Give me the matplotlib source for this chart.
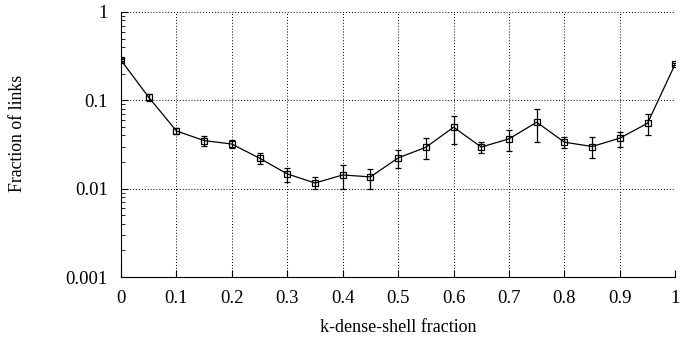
import numpy as np
import matplotlib.pyplot as plt

plt.rcParams['font.family'] = ['Liberation Serif', 'DejaVu Serif']

# data
shell_frac = [0.0, 0.05, 0.1, 0.15, 0.2, 0.25, 0.3, 0.35, 0.4, 0.45, 0.5,
              0.55, 0.6, 0.65, 0.7, 0.75, 0.8, 0.85, 0.9, 0.95, 1.0]
link_frac = [0.284, 0.108, 0.045, 0.035, 0.032, 0.0221, 0.0147, 0.0116, 0.0143, 0.0136, 0.0223,
             0.0294, 0.0496, 0.0296, 0.0366, 0.0565, 0.0336, 0.030, 0.0373, 0.055, 0.258]
err_hi = [0.29, 0.117, 0.048, 0.0396, 0.0355, 0.0252, 0.0171, 0.0134, 0.0184, 0.0168, 0.0275,
          0.0373, 0.066, 0.0336, 0.0459, 0.080, 0.0388, 0.0383, 0.0442, 0.0696, 0.265]
err_lo = [0.278, 0.099, 0.042, 0.0307, 0.0290, 0.0189, 0.0120, 0.00987, 0.0100, 0.0100, 0.0173,
          0.0216, 0.0319, 0.0256, 0.0268, 0.0336, 0.0287, 0.0223, 0.0299, 0.0406, 0.251]

y = np.array(link_frac)
yerr = [y - np.array(err_lo), np.array(err_hi) - y]

fig = plt.figure(figsize=(6.8, 3.4), dpi=100)
ax = fig.add_axes([0.178, 0.185, 0.815, 0.78])

ax.errorbar(shell_frac, link_frac, yerr=yerr, color='black', lw=0.9,
            marker='s', ms=5, mfc='none', mec='black', mew=0.9,
            elinewidth=0.9, capsize=2.2, capthick=0.9)

ax.set_yscale('log')
ax.set_xlim(0, 1)
ax.set_ylim(0.001, 1)
ax.set_xticks(np.arange(0, 1.01, 0.1))
ax.set_xticklabels(['0', '0.1', '0.2', '0.3', '0.4', '0.5', '0.6', '0.7', '0.8', '0.9', '1'])
ax.set_yticks([0.001, 0.01, 0.1, 1])
ax.set_yticklabels(['0.001', '0.01', '0.1', '1'])

ax.grid(True, which='major', color='black', linestyle=(0, (1, 2)), linewidth=0.7)
ax.spines['top'].set_visible(False)
ax.spines['right'].set_visible(False)
ax.tick_params(which='both', direction='in', labelsize=13.5)
ax.tick_params(axis='x', pad=9)
ax.tick_params(axis='y', pad=9.5)
ax.tick_params(which='major', length=5)
ax.tick_params(which='minor', length=3)

ax.set_xlabel('k-dense-shell fraction', fontsize=13, labelpad=9)
ax.set_ylabel('Fraction of links', fontsize=12.8)
ax.yaxis.set_label_coords(-0.172, 0.54)

fig.savefig('out.png', dpi=100)
